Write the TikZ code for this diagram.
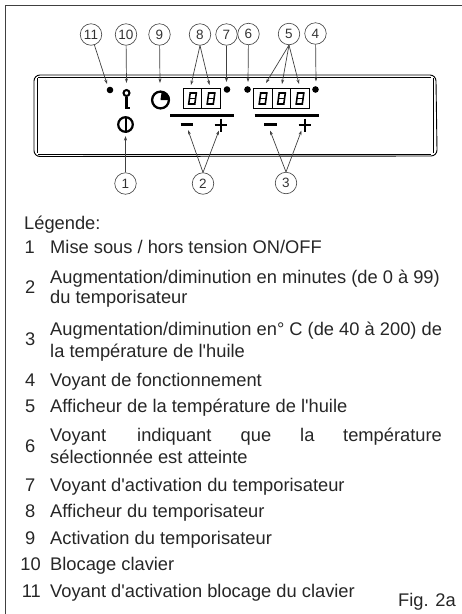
\documentclass[tikz,border=0pt]{standalone}
\usepackage{fontspec}
\setmainfont{Liberation Sans}[Ligatures=TeXOff]
\usetikzlibrary{arrows.meta}
\tikzset{x=1pt,y=-1pt,
 callout/.style={circle,draw=black!75,line width=.6pt,minimum size=21.5pt,inner sep=0pt,font=\fontsize{13.5}{13.5}\selectfont,text=black!80},
 lead/.style={black!75,line width=.7pt,-{Stealth[length=4.5pt,width=3pt]},shorten >=0pt},
 lamp/.style={circle,fill=black,inner sep=0pt,minimum size=6.6pt},
 digit/.style={draw=black,line width=.6pt,minimum width=18.5pt,minimum height=20pt,inner sep=0pt},
 bar/.style={line width=2.3pt,black},
 sign/.style={line width=2.5pt,black},
 num/.style={anchor=base east,inner sep=0pt,font=\fontsize{18.3}{18.3}\selectfont,text=black!85},
 txt/.style={anchor=base west,inner sep=0pt,font=\fontsize{18.3}{18.3}\selectfont,text=black!85},
 seg/.style={line width=1.6pt,black}}
\newcommand{\sevenseg}[1]{%
 \begin{scope}[shift={(#1)}]
 \draw[seg] (-2.3,-5.5) -- (3.8,-5.5) -- (2.3,5.5) -- (-3.8,5.5) -- cycle;
 \draw[seg] (-3,0) -- (3,0);
 \end{scope}}
\begin{document}
\begin{tikzpicture}
\useasboundingbox (0,0) rectangle (462,614);
% frame
\draw[black!75,line width=.9pt] (5,614) -- (5,5.5) -- (462,5.5);
% panel
\draw[black,line width=.9pt] (40,75) -- (430,75) arc[start angle=-90,end angle=0,radius=6] -- (437,150) arc[start angle=0,end angle=90,radius=6] -- (40,156.5) arc[start angle=90,end angle=180,radius=6] -- (34,81) arc[start angle=180,end angle=270,radius=6] -- cycle;
\draw[black,line width=.6pt] (38,77.5) -- (431,77.5);
\draw[black,line width=.6pt] (38,154) -- (431,154);
\draw[black,line width=.6pt] (37,78) -- (37,153);
\draw[black,line width=.6pt] (433.5,78) -- (433.5,153);
% callouts
\node[callout] (c11) at (91,34.5) {11};
\node[callout] (c10) at (126,34.5) {10};
\node[callout] (c9) at (159.5,34.5) {9};
\node[callout] (c8) at (200,34.5) {8};
\node[callout] (c7) at (226.5,34.5) {7};
\node[callout] (c6) at (248.5,34) {6};
\node[callout] (c5) at (289,34) {5};
\node[callout] (c4) at (315.5,33.5) {4};
\node[callout] (c1) at (125.5,183.5) {1};
\node[callout] (c2) at (203,183.5) {2};
\node[callout] (c3) at (286,183) {3};
% lamps
\node[lamp] (l11) at (110,90) {};
\node[lamp] (l7) at (227,89.5) {};
\node[lamp] (l6) at (247.5,89.5) {};
\node[lamp] (l4) at (315.5,89.5) {};
% key
\node[circle,draw=black,line width=2pt,minimum size=6pt,inner sep=0pt] (key) at (126.5,93) {};
\draw[black,line width=3pt] (key.south) -- (126.5,109);
\draw[black,line width=2.2pt] (126.5,107.8) -- (129.5,107.8);
% clock
\node[circle,draw=black,line width=2.3pt,minimum size=16.8pt,inner sep=0pt] (clock) at (160.5,100) {};
\fill[black] (clock.center) -- (clock.east) arc[start angle=0,end angle=-90,radius=8.4] -- cycle;
% power
\node[circle,draw=black,line width=2.2pt,minimum size=14.6pt,inner sep=0pt] (pow) at (125.5,124.5) {};
\draw[black,line width=2pt] (125.5,116.5) -- (125.5,132.5);
% displays
\node[digit] (d81) at (192.5,98.5) {};
\node[digit] (d82) at (211,98.5) {};
\node[digit] (d51) at (263,98.5) {};
\node[digit] (d52) at (281.5,98.5) {};
\node[digit] (d53) at (300,98.5) {};
\sevenseg{192.5,98.5}\sevenseg{211,98.5}\sevenseg{263,98.5}\sevenseg{281.5,98.5}\sevenseg{300,98.5}
% bars
\draw[bar] (170,115.5) -- (234,115.5);
\draw[bar] (254.5,115.5) -- (318.5,115.5);
% plus minus
\draw[sign] (180.5,124.5) -- (192.5,124.5);
\draw[sign] (264,124.5) -- (276.5,124.5);
\draw[sign] (214.5,125) -- (227,125) (220.8,118.5) -- (220.8,131.5);
\draw[sign] (298.5,125) -- (311,125) (304.8,118.5) -- (304.8,131.5);
% targets
\coordinate (t11) at (107,84);
\coordinate (t10) at (126.5,83);
\coordinate (t9) at (160,83);
\coordinate (t81) at (191,85);
\coordinate (t82) at (209.5,85);
\coordinate (t7) at (226.5,82);
\coordinate (t6) at (248,82);
\coordinate (t51) at (266,83);
\coordinate (t52) at (282,84);
\coordinate (t53) at (299,84);
\coordinate (t4) at (316,81.5);
\coordinate (t1) at (125.5,136);
\coordinate (t2a) at (188,130);
\coordinate (t2b) at (219,130.5);
\coordinate (t3a) at (270,130.5);
\coordinate (t3b) at (301.5,130.5);
\draw[lead] (c11) -- (t11);
\draw[lead] (c10) -- (t10);
\draw[lead] (c9) -- (t9);
\draw[lead] (c8.south) -- (t81);
\draw[lead] (c8.south) -- (t82);
\draw[lead] (c7) -- (t7);
\draw[lead] (c6) -- (t6);
\draw[lead] (c5.south) -- (t51);
\draw[lead] (c5.south) -- (t52);
\draw[lead] (c5.south) -- (t53);
\draw[lead] (c4) -- (t4);
\draw[lead] (c1) -- (t1);
\draw[lead] (c2.north) -- (t2a);
\draw[lead] (c2.north) -- (t2b);
\draw[lead] (c3.north) -- (t3a);
\draw[lead] (c3.north) -- (t3b);
% legend
\node[txt] (leg) at (24,229) {Légende:};
\node[num] (n1) at (35,253) {1};
\node[txt] (t1a) at (50,253) {Mise sous / hors tension ON/OFF};
\node[num] (n2) at (35.5,293) {2};
\node[txt] (t2l1) at (50,283) {Augmentation/diminution en minutes (de 0 à 99)};
\node[txt] (t2l2) at (50,303.5) {du temporisateur};
\node[num] (n3) at (35.5,345.5) {3};
\node[txt] (t3l1) at (50,335.5) {Augmentation/diminution en° C (de 40 à 200) de};
\node[txt] (t3l2) at (50,357) {la température de l'huile};
\node[num] (n4) at (35.5,386) {4};
\node[txt] (t4a) at (50,386) {Voyant de fonctionnement};
\node[num] (n5) at (35.5,412) {5};
\node[txt] (t5a) at (50,412) {Afficheur de la température de l'huile};
\node[num] (n6) at (35.5,452) {6};
\node[txt] (t6l1) at (50,441) {Voyant};
\node[txt] (t6b) at (137,441) {indiquant};
\node[txt] (t6c) at (240.5,441) {que};
\node[txt] (t6d) at (300,441) {la};
\node[txt] (t6e) at (343,441) {température};
\node[txt] (t6l2) at (50,463) {sélectionnée est atteinte};
\node[num] (n7) at (35.5,491) {7};
\node[txt] (t7a) at (50,491) {Voyant d'activation du temporisateur};
\node[num] (n8) at (35.5,517.5) {8};
\node[txt] (t8a) at (50,517.5) {Afficheur du temporisateur};
\node[num] (n9) at (35.5,544) {9};
\node[txt] (t9a) at (50,544) {Activation du temporisateur};
\node[num] (n10) at (41,570.5) {10};
\node[txt] (t10a) at (50,570.5) {Blocage clavier};
\node[num] (n11) at (41,597) {11};
\node[txt] (t11a) at (50,597) {Voyant d'activation blocage du clavier};
\node[txt] (fig) at (398,606) {Fig. 2a};
\end{tikzpicture}
\end{document}
